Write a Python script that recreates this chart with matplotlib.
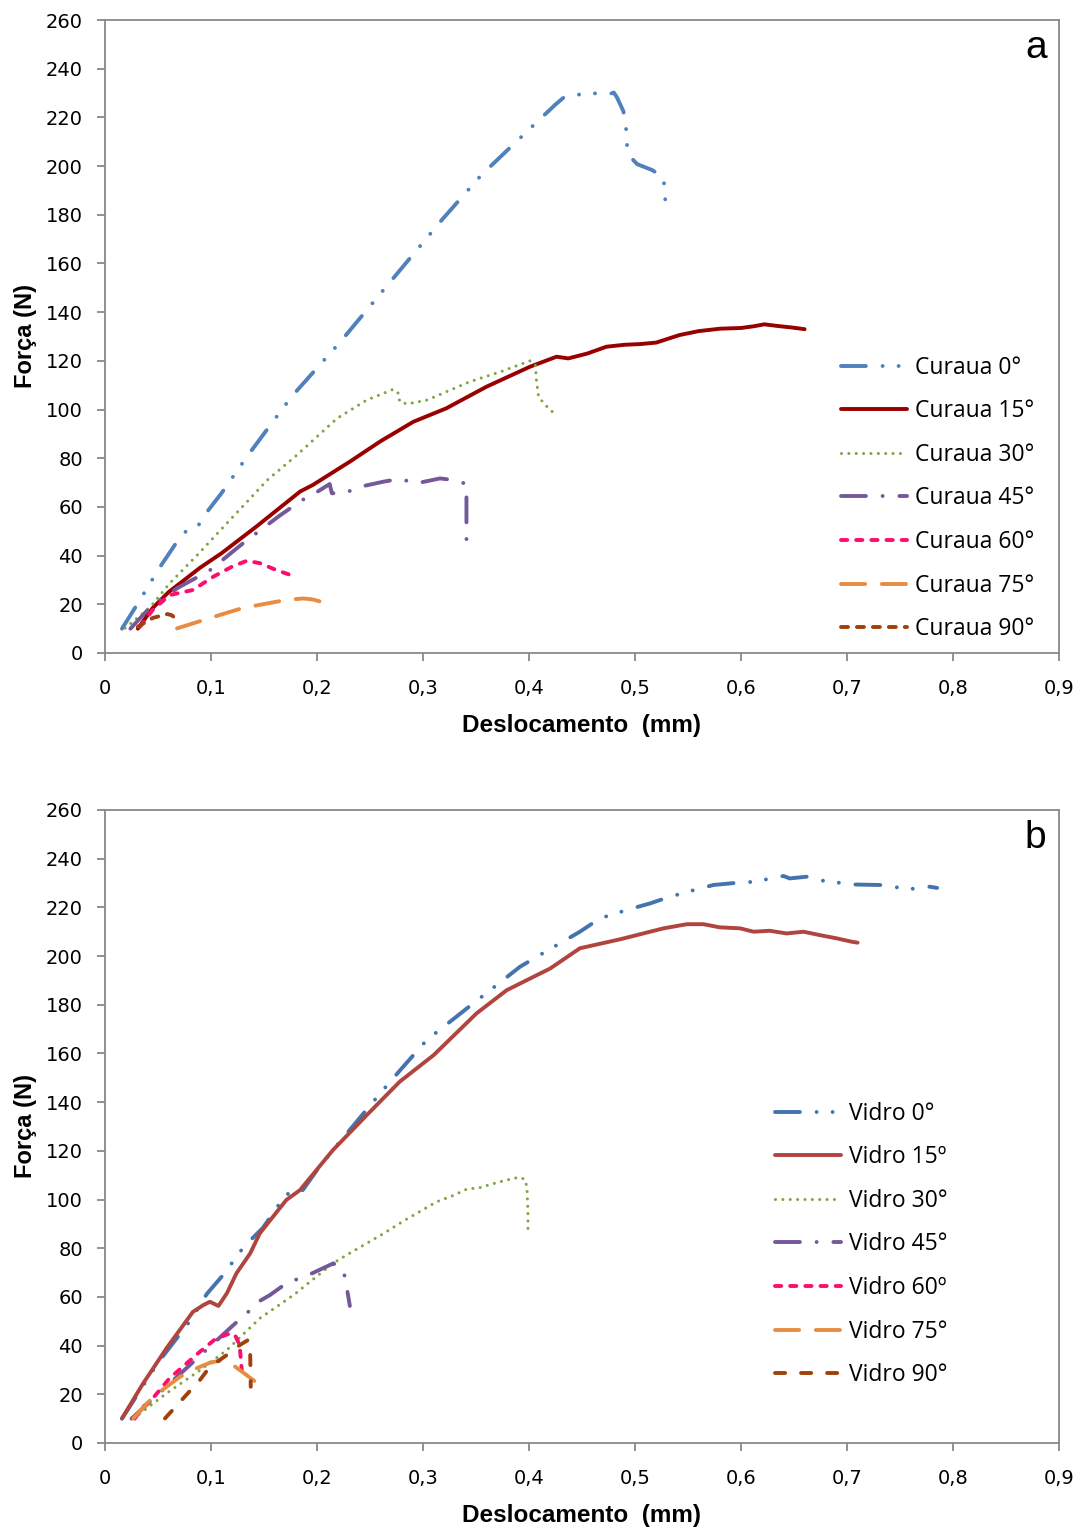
import matplotlib
matplotlib.use("Agg")
import matplotlib.pyplot as plt
from matplotlib import font_manager

# ---------------- data: panel a (Curaua) ----------------
c0_x = [0.016, 0.030, 0.052, 0.067, 0.076, 0.087, 0.094, 0.110, 0.135, 0.176, 0.222, 0.318, 0.355,
        0.374, 0.406, 0.425, 0.435, 0.461, 0.470, 0.476, 0.480, 0.483, 0.489, 0.4915, 0.492, 0.494,
        0.502, 0.516, 0.527, 0.528, 0.529]
c0_y = [10, 19.7, 35.4, 45.1, 49.8, 51.6, 56.7, 65.7, 81.3, 105.3, 127.8, 178, 196.3,
        204.2, 217.5, 225.3, 229, 229.8, 230.2, 229.6, 230.2, 228.2, 222.6, 216.4, 210, 204.5,
        200.8, 198.4, 195.4, 188.8, 184]

c15_x = [0.031, 0.045, 0.060, 0.0896, 0.110, 0.143, 0.184, 0.196, 0.231, 0.260, 0.291, 0.322, 0.360,
         0.401, 0.426, 0.437, 0.455, 0.473, 0.490, 0.505, 0.520, 0.542, 0.560, 0.580, 0.600, 0.612,
         0.622, 0.635, 0.648, 0.660]
c15_y = [10, 18.5, 25, 35, 41, 52, 66.3, 69, 78.6, 87, 95, 100.5, 109.4,
         117.6, 121.7, 121, 123, 125.8, 126.6, 126.9, 127.5, 130.6, 132.2, 133.2, 133.5, 134.2,
         135, 134.3, 133.7, 133]

c30_x = [0.019, 0.043, 0.061, 0.087, 0.112, 0.134, 0.153, 0.181, 0.219, 0.247, 0.272, 0.277, 0.278,
         0.285, 0.304, 0.322, 0.344, 0.373, 0.401, 0.406, 0.407, 0.409, 0.415, 0.423]
c30_y = [10.2, 19, 28.6, 40.2, 51.9, 62.1, 71, 81.3, 96.4, 103.9, 108.3, 106.6, 103.2,
         102.3, 103.9, 107.3, 111.4, 115.5, 120, 118.3, 112.1, 105.3, 102, 98.7]

c45_x = [0.024, 0.042, 0.068, 0.099, 0.130, 0.165, 0.186, 0.198, 0.212, 0.214, 0.226, 0.241, 0.263,
         0.278, 0.294, 0.316, 0.330, 0.341, 0.341, 0.341]
c45_y = [10, 18.5, 26.6, 34, 45, 56.5, 62.8, 65.6, 69.4, 65.6, 65.7, 68.3, 70.4,
         71.5, 69.7, 71.7, 71, 69.4, 58, 43]

c60_x = [0.033, 0.045, 0.061, 0.083, 0.102, 0.120, 0.134, 0.146, 0.162, 0.178]
c60_y = [10.8, 17.7, 23.8, 25.9, 31.3, 35.5, 37.9, 36.9, 34, 31.6]

c75_x = [0.068, 0.100, 0.130, 0.171, 0.187, 0.196, 0.209]
c75_y = [10.1, 14.5, 18.5, 21.8, 22.4, 22, 20.4]

c90_x = [0.031, 0.045, 0.059, 0.063, 0.066]
c90_y = [10.8, 14.4, 16, 15.5, 14.4]

# ---------------- data: panel b (Vidro) ----------------
v0_x = [0.016, 0.050, 0.080, 0.096, 0.112, 0.131, 0.149, 0.171, 0.184, 0.200, 0.215, 0.234, 0.259,
        0.278, 0.3035, 0.3475, 0.3915, 0.4073, 0.448, 0.467, 0.495, 0.514, 0.531, 0.558, 0.574,
        0.596, 0.612, 0.640, 0.646, 0.662, 0.678, 0.706, 0.731, 0.759, 0.778, 0.785]
v0_y = [10, 33, 50, 61.2, 69.3, 80.6, 88.4, 102.3, 102.3, 112.1, 120.3, 130.2, 143.3,
        152.9, 165.5, 180.6, 195.6, 199.7, 210, 215.5, 219.3, 221.6, 224.1, 227.4, 229.2,
        230.1, 230.5, 232.9, 231.9, 232.6, 230.9, 229.4, 229.2, 227.5, 228.5, 228]

v15_x = [0.016, 0.036, 0.058, 0.083, 0.093, 0.099, 0.107, 0.115, 0.124, 0.137, 0.146, 0.171, 0.184,
         0.215, 0.247, 0.278, 0.310, 0.3506, 0.379, 0.420, 0.448, 0.486, 0.527, 0.549, 0.5645,
         0.580, 0.599, 0.612, 0.627, 0.643, 0.659, 0.6745, 0.690, 0.7045, 0.710]
v15_y = [10.1, 24.5, 38.9, 53.9, 56.7, 58, 56.3, 61.5, 69.7, 77.9, 86.1, 99.8, 103.9,
         120.3, 134.7, 148.4, 159.3, 176.5, 186, 194.9, 203.2, 206.9, 211.4, 213.1, 213.1,
         211.8, 211.4, 210, 210.4, 209.3, 210, 208.6, 207.3, 205.9, 205.5]

v30_x = [0.027, 0.058, 0.090, 0.115, 0.146, 0.178, 0.215, 0.228, 0.263, 0.282, 0.313, 0.327, 0.341,
         0.355, 0.362, 0.376, 0.390, 0.396, 0.398, 0.399, 0.399]
v30_y = [10.1, 20.4, 30, 38.2, 51.2, 60.8, 73.8, 77.2, 86.1, 91.3, 99.1, 101.4, 104.2,
         105, 106, 107.7, 109.1, 108.4, 105.3, 95, 85.8]

v45_x = [0.025, 0.055, 0.087, 0.1195, 0.137, 0.1446, 0.1557, 0.173, 0.184, 0.1965, 0.2154, 0.2248,
         0.2274, 0.231]
v45_y = [10, 22, 34.8, 47.8, 54.6, 58, 60.8, 66.2, 67.6, 69.9, 73.8, 71.3, 65.6, 56.3]

v60_x = [0.028, 0.036, 0.0425, 0.061, 0.077, 0.0896, 0.105, 0.118, 0.1226, 0.127, 0.129]
v60_y = [10, 14.9, 17, 26.6, 32.7, 37.5, 43, 45, 44.4, 40.2, 30]

v75_x = [0.0267, 0.0456, 0.0708, 0.0865, 0.099, 0.1085, 0.1195, 0.1305, 0.146]
v75_y = [10.1, 19, 27.2, 30.7, 33, 33.8, 32.4, 28.9, 23.8]

v90_x = [0.0566, 0.0739, 0.0896, 0.099, 0.1148, 0.127, 0.135, 0.137, 0.1375]
v90_y = [10.1, 18.4, 25.9, 31.3, 36.1, 40.2, 42.3, 36.1, 23.1]

labels_a = ["Curaua 0°", "Curaua 15°", "Curaua 30°", "Curaua 45°", "Curaua 60°", "Curaua 75°", "Curaua 90°"]
labels_b = ["Vidro 0°", "Vidro 15º", "Vidro 30°", "Vidro 45°", "Vidro 60º", "Vidro 75°", "Vidro 90°"]

x_ticks = [0, 0.1, 0.2, 0.3, 0.4, 0.5, 0.6, 0.7, 0.8, 0.9]
x_ticklabels = ["0", "0,1", "0,2", "0,3", "0,4", "0,5", "0,6", "0,7", "0,8", "0,9"]
y_ticks = list(range(0, 261, 20))

# ---------------- styles (dash lengths in units of line width) ----------------
LW = 2.8
LW_DOT = 2.2
DASH_DOT_DOT = (0, (6.4, 4.3, 0.01, 4.1, 0.01, 4.3))
DASH_DOT = (0, (6.4, 4.3, 0.01, 4.3))
ROUND_DOT = (0, (0.01, 2.4))
SHORT_DASH = (0, (1.6, 2.3))
LONG_DASH = (0, (6.2, 4.3))
DASH_A = (0, (1.8, 2.3))
DASH_B = (0, (2.6, 4.1))

styles_a = [
    ("#4F81BD", DASH_DOT_DOT, LW),
    ("#990000", "solid", LW),
    ("#80A545", ROUND_DOT, LW_DOT),
    ("#74589A", DASH_DOT, LW),
    ("#FF0D6E", SHORT_DASH, LW),
    ("#E88C42", LONG_DASH, LW),
    ("#A0400C", DASH_A, LW),
]
styles_b = [
    ("#4473AE", DASH_DOT_DOT, LW),
    ("#B0443F", "solid", LW),
    ("#80A545", ROUND_DOT, LW_DOT),
    ("#74589A", DASH_DOT, LW),
    ("#FF0D6E", SHORT_DASH, LW),
    ("#E88C42", LONG_DASH, LW),
    ("#A0400C", DASH_B, LW),
]

series_a = [(c0_x, c0_y), (c15_x, c15_y), (c30_x, c30_y), (c45_x, c45_y),
            (c60_x, c60_y), (c75_x, c75_y), (c90_x, c90_y)]
series_b = [(v0_x, v0_y), (v15_x, v15_y), (v30_x, v30_y), (v45_x, v45_y),
            (v60_x, v60_y), (v75_x, v75_y), (v90_x, v90_y)]

installed = {f.name for f in font_manager.fontManager.ttflist}
label_family = ["Liberation Sans Narrow"] if "Liberation Sans Narrow" in installed else ["Liberation Sans"]
tick_family = ["DejaVu Sans"]
legend_family = ["Open Sans", "DejaVu Sans"]

SPINE = "#888888"

fig = plt.figure(figsize=(10.83, 15.31), dpi=100)
ax_a = fig.add_axes([105 / 1083, 1 - 653 / 1531, 954 / 1083, 633 / 1531])
ax_b = fig.add_axes([105 / 1083, 1 - 1443 / 1531, 954 / 1083, 633 / 1531])


def draw_panel(ax, series, styles, labels, letter, leg_x, leg_y):
    handles = []
    for (xs, ys), (color, ls, lw), lab in zip(series, styles, labels):
        (ln,) = ax.plot(xs, ys, color=color, linestyle=ls, linewidth=lw,
                        dash_capstyle="round", solid_capstyle="round",
                        solid_joinstyle="round", dash_joinstyle="round", label=lab)
        handles.append(ln)
    ax.set_xlim(0, 0.9)
    ax.set_ylim(0, 260)
    ax.set_xticks(x_ticks)
    ax.set_xticklabels(x_ticklabels)
    ax.set_yticks(y_ticks)
    for sp in ax.spines.values():
        sp.set_color(SPINE)
        sp.set_linewidth(1.3)
    ax.tick_params(axis="both", direction="out", color=SPINE, width=1.3, length=6,
                   labelsize=14, labelcolor="black")
    ax.tick_params(axis="y", pad=10)
    ax.tick_params(axis="x", pad=13)
    for t in ax.get_xticklabels() + ax.get_yticklabels():
        t.set_family(tick_family)
    ax.set_xlabel("Deslocamento  (mm)", family=label_family, fontweight="bold",
                  fontsize=17.5, labelpad=11)
    ax.set_ylabel("Força (N)", family=label_family, fontweight="bold",
                  fontsize=17, labelpad=6)
    ax.text(0.987, 0.955, letter, transform=ax.transAxes, ha="right", va="center",
            fontsize=28, family=["Liberation Sans", "DejaVu Sans"])
    ax.legend(handles=handles, loc="center left", bbox_to_anchor=(leg_x, leg_y),
              frameon=False, borderpad=0, borderaxespad=0, handlelength=2.9,
              handletextpad=0.35, labelspacing=0.855,
              prop={"family": legend_family, "size": 16.5})


draw_panel(ax_a, series_a, styles_a, labels_a, "a", (841 - 105) / 954, (653 - 498.5) / 633)
draw_panel(ax_b, series_b, styles_b, labels_b, "b", (775 - 105) / 954, (1443 - 1244.5) / 633)

fig.savefig("out.png", dpi=100)
